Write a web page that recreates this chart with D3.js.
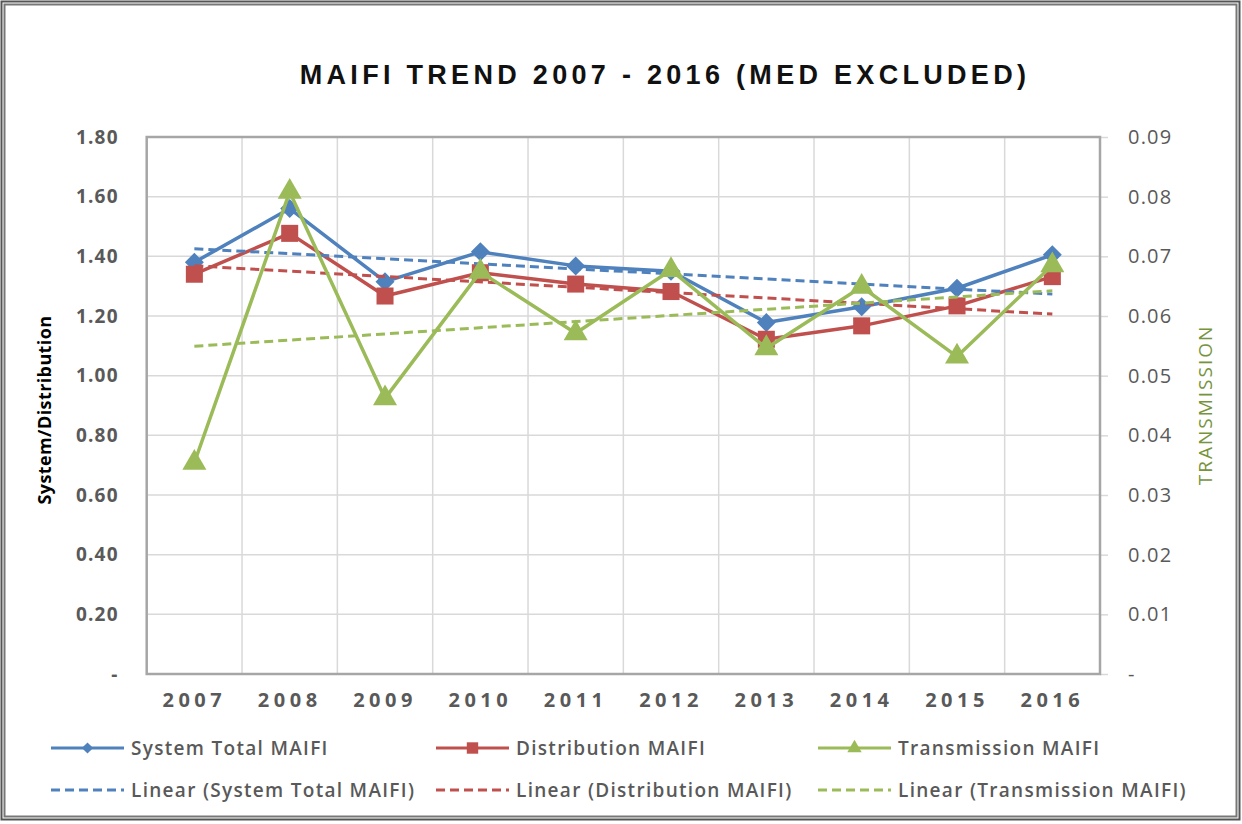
<!DOCTYPE html>
<html>
<head>
<meta charset="utf-8">
<script src="https://cdn.jsdelivr.net/npm/d3@7"></script>
<style>
  body { margin: 0; background: #fff; }
  svg { display: block; }
</style>
</head>
<body>
<svg id="chart" width="1242" height="824"></svg>
<script>
// data
var years = ["2007", "2008", "2009", "2010", "2011", "2012", "2013", "2014", "2015", "2016"];
var systemTotal = [1.38, 1.56, 1.315, 1.415, 1.368, 1.35, 1.178, 1.231, 1.293, 1.405];
var distribution = [1.34, 1.477, 1.267, 1.345, 1.307, 1.282, 1.122, 1.167, 1.234, 1.332];
var transmission = [0.0354, 0.0808, 0.0462, 0.0674, 0.0571, 0.0677, 0.0546, 0.0649, 0.0532, 0.0685];
var leftTicks = [0, 0.2, 0.4, 0.6, 0.8, 1.0, 1.2, 1.4, 1.6, 1.8];
var rightTicks = [0, 0.01, 0.02, 0.03, 0.04, 0.05, 0.06, 0.07, 0.08, 0.09];

var blue = "#4F81BD", red = "#C0504D", green = "#9BBB59";

var svg = d3.select("#chart");
var plotL = 146.7, plotR = 1100, plotT = 137, plotB = 674;

// outer frame
svg.append("rect").attr("x", 1.5).attr("y", 1.5).attr("width", 1238).attr("height", 818)
    .attr("fill", "none").attr("stroke", "#555").attr("stroke-width", 2);
svg.append("rect").attr("x", 4.5).attr("y", 4.5).attr("width", 1232).attr("height", 812)
    .attr("fill", "none").attr("stroke", "#777").attr("stroke-width", 2);

var x = d3.scaleBand().domain(years).range([plotL, plotR]);
var cx = function(d) { return x(d) + x.bandwidth() / 2; };
var yL = d3.scaleLinear().domain([0, 1.8]).range([plotB, plotT]);
var yR = d3.scaleLinear().domain([0, 0.09]).range([plotB, plotT]);

// title
svg.append("text")
    .attr("x", 665).attr("y", 84)
    .attr("text-anchor", "middle")
    .style("font-family", "Liberation Sans, Arial, sans-serif")
    .style("font-weight", "bold")
    .style("font-size", "27px")
    .style("letter-spacing", "4.3px")
    .attr("fill", "#111")
    .text("MAIFI TREND 2007 - 2016 (MED EXCLUDED)");

// grid
var grid = svg.append("g");
grid.selectAll(".hg").data(leftTicks.slice(1)).enter().append("line")
    .attr("x1", plotL).attr("x2", plotR)
    .attr("y1", function(d) { return yL(d); }).attr("y2", function(d) { return yL(d); })
    .attr("stroke", "#D9D9D9").attr("stroke-width", 1.5);
grid.selectAll(".vg").data(years.slice(1)).enter().append("line")
    .attr("x1", function(d) { return x(d); }).attr("x2", function(d) { return x(d); })
    .attr("y1", plotT).attr("y2", plotB)
    .attr("stroke", "#D9D9D9").attr("stroke-width", 1.5);

// left axis
var axL = svg.append("g").attr("transform", "translate(" + plotL + ",0)")
    .call(d3.axisLeft(yL).tickValues(leftTicks).tickSize(0).tickPadding(28)
        .tickFormat(function(d) { return d === 0 ? "-" : d.toFixed(2); }));
axL.select(".domain").remove();
axL.selectAll("text")
    .style("font-family", "Open Sans, sans-serif").style("font-weight", "bold")
    .style("font-size", "19px").style("letter-spacing", "1.2px").attr("fill", "#595959");

// right axis
var axR = svg.append("g").attr("transform", "translate(" + plotR + ",0)")
    .call(d3.axisRight(yR).tickValues(rightTicks).tickSize(8).tickPadding(20)
        .tickFormat(function(d) { return d === 0 ? "-" : d.toFixed(2); }));
axR.select(".domain").remove();
axR.selectAll("line").attr("stroke", "#D9D9D9").attr("stroke-width", 1.5);
axR.selectAll("text")
    .style("font-family", "Open Sans, sans-serif")
    .style("font-size", "20px").style("letter-spacing", "1.2px").attr("fill", "#595959");

// x axis
var axX = svg.append("g").attr("transform", "translate(0," + plotB + ")")
    .call(d3.axisBottom(x).tickSize(0).tickPadding(19));
axX.select(".domain").remove();
axX.selectAll("text")
    .style("font-family", "Open Sans, sans-serif").style("font-weight", "bold")
    .style("font-size", "20px").style("letter-spacing", "4.5px")
    .attr("fill", "#595959");

// plot border
svg.append("rect").attr("x", plotL).attr("y", plotT)
    .attr("width", plotR - plotL).attr("height", plotB - plotT)
    .attr("fill", "none").attr("stroke", "#A6A6A6").attr("stroke-width", 2.5);

// axis titles
svg.append("text")
    .attr("transform", "translate(51,410) rotate(-90)")
    .attr("text-anchor", "middle")
    .style("font-family", "Open Sans, sans-serif").style("font-weight", "bold")
    .style("font-size", "18px").style("letter-spacing", "0.4px").attr("fill", "#000")
    .text("System/Distribution");
svg.append("text")
    .attr("transform", "translate(1212,405) rotate(-90)")
    .attr("text-anchor", "middle")
    .style("font-family", "Open Sans, sans-serif")
    .style("font-size", "19px").style("letter-spacing", "2px").attr("fill", "#77933C")
    .text("TRANSMISSION");

// linear trend (least squares over the category index)
function trend(vals) {
    var n = vals.length, mx = (n - 1) / 2, my = d3.mean(vals);
    var sxy = 0, sxx = 0;
    vals.forEach(function(v, i) { sxy += (i - mx) * (v - my); sxx += (i - mx) * (i - mx); });
    var b = sxy / sxx, a = my - b * mx;
    return [a, a + b * (n - 1)];
}

var diamond = d3.symbol().type(d3.symbolDiamond2).size(230);
var square = d3.symbol().type(d3.symbolSquare).size(290);
var triangle = d3.symbol().type(d3.symbolTriangle).size(250);

function drawSeries(vals, y, color, sym) {
    var line = d3.line().x(function(d, i) { return cx(years[i]); }).y(function(d) { return y(d); });
    svg.append("path").datum(vals).attr("d", line)
        .attr("fill", "none").attr("stroke", color).attr("stroke-width", 3.5)
        .attr("stroke-linejoin", "round");
    svg.append("g").selectAll("path").data(vals).enter().append("path")
        .attr("d", sym)
        .attr("transform", function(d, i) { return "translate(" + cx(years[i]) + "," + y(d) + ")"; })
        .attr("fill", color);
}

function drawTrend(vals, y, color) {
    var t = trend(vals);
    svg.append("line")
        .attr("x1", cx(years[0])).attr("x2", cx(years[years.length - 1]))
        .attr("y1", y(t[0])).attr("y2", y(t[1]))
        .attr("stroke", color).attr("stroke-width", 3)
        .attr("stroke-dasharray", "9,5");
}

drawSeries(systemTotal, yL, blue, diamond);
drawSeries(distribution, yL, red, square);
drawTrend(systemTotal, yL, blue);
drawTrend(distribution, yL, red);
drawSeries(transmission, yR, green, triangle);
drawTrend(transmission, yR, green);

// legend
var legendItems = [
    { name: "System Total MAIFI", color: blue, sym: d3.symbol().type(d3.symbolDiamond2).size(80), dash: false, x: 51, y: 748 },
    { name: "Distribution MAIFI", color: red, sym: d3.symbol().type(d3.symbolSquare).size(130), dash: false, x: 436, y: 748 },
    { name: "Transmission MAIFI", color: green, sym: d3.symbol().type(d3.symbolTriangle).size(90), dash: false, x: 818, y: 748 },
    { name: "Linear (System Total MAIFI)", color: blue, dash: true, x: 51, y: 790 },
    { name: "Linear (Distribution MAIFI)", color: red, dash: true, x: 436, y: 790 },
    { name: "Linear (Transmission MAIFI)", color: green, dash: true, x: 818, y: 790 }
];
var lg = svg.append("g").selectAll("g").data(legendItems).enter().append("g")
    .attr("transform", function(d) { return "translate(" + d.x + "," + d.y + ")"; });
lg.append("line").attr("x1", 0).attr("x2", 73).attr("y1", 0).attr("y2", 0)
    .attr("stroke", function(d) { return d.color; })
    .attr("stroke-width", 3)
    .attr("stroke-dasharray", function(d) { return d.dash ? "9,5" : null; });
lg.filter(function(d) { return !d.dash; }).append("path")
    .attr("d", function(d) { return d.sym(); })
    .attr("transform", "translate(36.5,0)")
    .attr("fill", function(d) { return d.color; });
lg.append("text").attr("x", 80).attr("y", 0).attr("dy", "0.36em")
    .style("font-family", "Open Sans, sans-serif").style("font-weight", "600")
    .style("font-size", "19px").style("letter-spacing", "1.3px").attr("fill", "#595959")
    .text(function(d) { return d.name; });
</script>
</body>
</html>
